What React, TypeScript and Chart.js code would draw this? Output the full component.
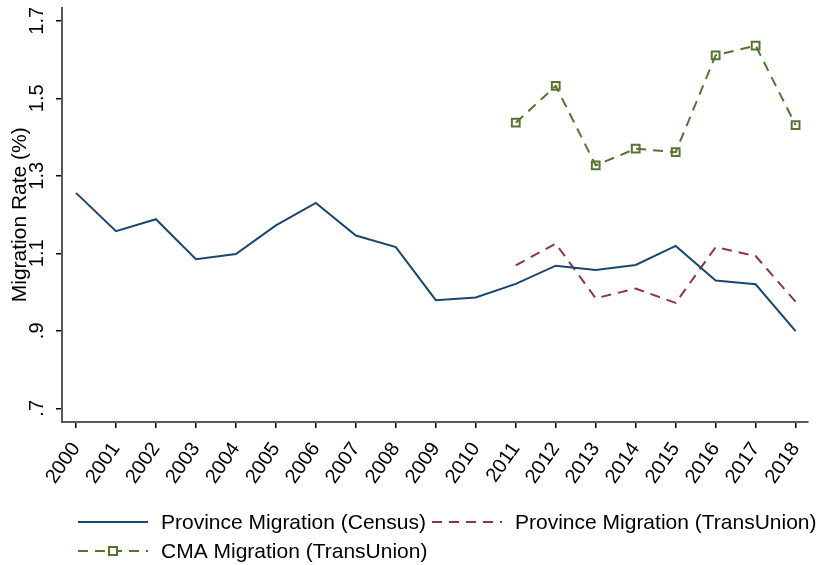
import React, { useEffect, useRef } from "react";
import { Chart, registerables } from "chart.js";

Chart.register(...registerables);

// data
const years = [2000, 2001, 2002, 2003, 2004, 2005, 2006, 2007, 2008, 2009, 2010, 2011, 2012, 2013, 2014, 2015, 2016, 2017, 2018];
const censusRates = [1.256, 1.157, 1.188, 1.085, 1.098, 1.172, 1.23, 1.146, 1.116, 0.979, 0.986, 1.021, 1.068, 1.057, 1.07, 1.119, 1.03, 1.02, 0.899];
const tuYears = [2011, 2012, 2013, 2014, 2015, 2016, 2017, 2018];
const tuProvinceRates = [1.069, 1.125, 0.984, 1.009, 0.972, 1.116, 1.093, 0.975];
const tuCmaRates = [1.437, 1.532, 1.327, 1.37, 1.361, 1.611, 1.636, 1.431];
const yTicks = [0.7, 0.9, 1.1, 1.3, 1.5, 1.7];
const yTickLabels = [".7", ".9", "1.1", "1.3", "1.5", "1.7"];

const FONT = "'Liberation Sans', Arial, sans-serif";
const BLUE = "#1a476f";
const RED = "#90353b";
const GREEN = "#55752f";

// rotated y tick labels, y title and the two-column legend, Stata style
const stataExtras = {
  id: "stataExtras",
  afterDraw(chart: Chart) {
    const { ctx } = chart;
    const y = chart.scales.y;
    ctx.save();
    ctx.fillStyle = "#000";

    ctx.font = `20px ${FONT}`;
    ctx.textAlign = "center";
    ctx.textBaseline = "alphabetic";
    yTicks.forEach((v, i) => {
      ctx.save();
      ctx.translate(43, y.getPixelForValue(v));
      ctx.rotate(-Math.PI / 2);
      ctx.fillText(yTickLabels[i], 0, 0);
      ctx.restore();
    });

    ctx.font = `21px ${FONT}`;
    ctx.save();
    ctx.translate(26, (chart.chartArea.top + chart.chartArea.bottom) / 2);
    ctx.rotate(-Math.PI / 2);
    ctx.fillText("Migration Rate (%)", 0, 0);
    ctx.restore();

    // legend
    const items = [
      { ds: 0, x: 78, y: 522 },
      { ds: 1, x: 432, y: 522 },
      { ds: 2, x: 78, y: 551 },
    ];
    ctx.textAlign = "left";
    ctx.textBaseline = "middle";
    items.forEach((it) => {
      const ds: any = chart.data.datasets[it.ds];
      ctx.save();
      ctx.strokeStyle = ds.borderColor;
      ctx.lineWidth = 2;
      ctx.setLineDash(ds.borderDash || []);
      ctx.beginPath();
      ctx.moveTo(it.x, it.y);
      ctx.lineTo(it.x + 70, it.y);
      ctx.stroke();
      if (ds.pointRadius > 0) {
        ctx.setLineDash([]);
        ctx.fillStyle = "#fff";
        ctx.fillRect(it.x + 31, it.y - 4, 8, 8);
        ctx.strokeRect(it.x + 31, it.y - 4, 8, 8);
      }
      ctx.restore();
      ctx.fillStyle = "#000";
      ctx.fillText(ds.label, it.x + 83, it.y + 1);
    });
    ctx.restore();
  },
};

export default function App() {
  const canvasRef = useRef<HTMLCanvasElement | null>(null);
  const chartRef = useRef<Chart | null>(null);

  useEffect(() => {
    document.body.style.margin = "0";
    if (!canvasRef.current) return;
    if (chartRef.current) chartRef.current.destroy();

    chartRef.current = new Chart(canvasRef.current, {
      type: "line",
      data: {
        datasets: [
          {
            label: "Province Migration (Census)",
            data: years.map((yr, i) => ({ x: yr, y: censusRates[i] })),
            borderColor: BLUE,
            borderWidth: 2,
            pointRadius: 0,
            tension: 0,
          },
          {
            label: "Province Migration (TransUnion)",
            data: tuYears.map((yr, i) => ({ x: yr, y: tuProvinceRates[i] })),
            borderColor: RED,
            borderWidth: 2,
            borderDash: [10, 7],
            pointRadius: 0,
            tension: 0,
          },
          {
            label: "CMA Migration (TransUnion)",
            data: tuYears.map((yr, i) => ({ x: yr, y: tuCmaRates[i] })),
            borderColor: GREEN,
            borderWidth: 2,
            borderDash: [10, 7],
            pointStyle: "rect",
            pointRadius: 5.5,
            pointBorderWidth: 2,
            pointBorderColor: GREEN,
            pointBackgroundColor: "rgba(255,255,255,0)",
            tension: 0,
          },
        ],
      },
      options: {
        animation: false,
        responsive: true,
        maintainAspectRatio: false,
        layout: { padding: { top: 7, right: 15, left: 0, bottom: 0 } },
        plugins: {
          legend: { display: false },
          tooltip: { enabled: false },
        },
        scales: {
          x: {
            type: "linear",
            min: 1999.65,
            max: 2018.31,
            afterBuildTicks: (scale: any) => {
              scale.ticks = years.map((v) => ({ value: v }));
            },
            afterFit: (scale: any) => {
              scale.height = 143;
              scale.paddingLeft = 0;
              scale.paddingRight = 0;
            },
            border: { color: "#595959", width: 2 },
            grid: { drawOnChartArea: false, drawTicks: true, tickLength: 6, color: "#000", lineWidth: 1.5 },
            ticks: {
              color: "#000",
              font: { family: FONT, size: 20 },
              minRotation: 55,
              maxRotation: 55,
              autoSkip: false,
              padding: 10,
              callback: (v: any) => String(v),
            },
          },
          y: {
            type: "linear",
            min: 0.6647,
            max: 1.7343,
            afterBuildTicks: (scale: any) => {
              scale.ticks = yTicks.map((v) => ({ value: v }));
            },
            afterFit: (scale: any) => {
              scale.width = 62;
              scale.paddingTop = 0;
              scale.paddingBottom = 0;
            },
            border: { color: "#595959", width: 2 },
            grid: { drawOnChartArea: false, drawTicks: true, tickLength: 6, color: "#000", lineWidth: 1.5 },
            ticks: { display: false },
          },
        },
      },
      plugins: [stataExtras],
    });

    return () => {
      if (chartRef.current) {
        chartRef.current.destroy();
        chartRef.current = null;
      }
    };
  }, []);

  return (
    <div style={{ width: "823px", height: "565px", background: "#fff" }}>
      <canvas ref={canvasRef} />
    </div>
  );
}
